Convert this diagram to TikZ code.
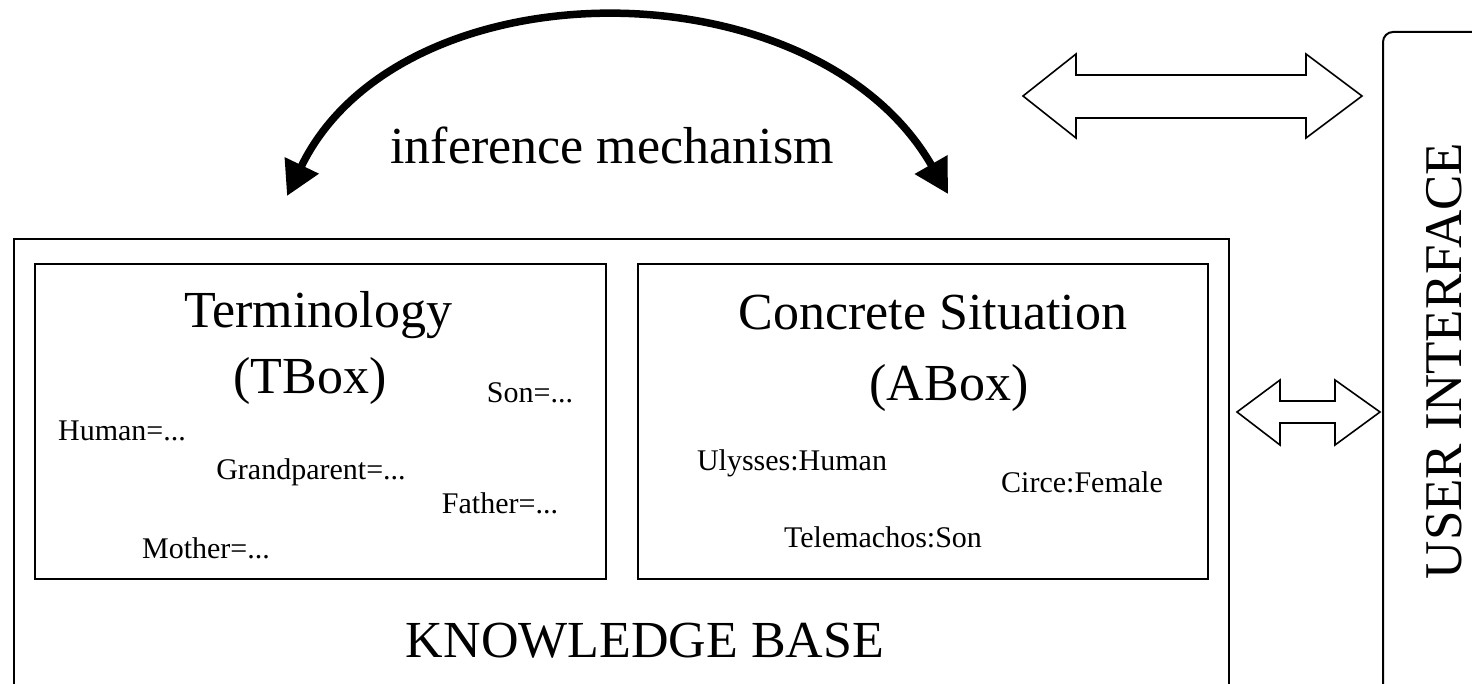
\documentclass[tikz,border=0pt]{standalone}
\usepackage{fontspec}
\setmainfont{Liberation Serif}
\usetikzlibrary{arrows.meta}
\begin{document}
\begin{tikzpicture}[x=1pt,y=-1pt,
  box/.style={draw, line width=2pt},
  title/.style={font=\fontsize{52}{60}\selectfont, anchor=base, inner sep=0pt},
  small/.style={font=\fontsize{30}{34}\selectfont, anchor=base, inner sep=0pt},
  fat/.style={draw, line width=1.6pt, fill=white, line join=miter},
  infer/.style={line width=7.5pt, {Triangle[length=34pt,width=36pt]}-{Triangle[length=34pt,width=36pt]}}]
\useasboundingbox (0,0) rectangle (1472,684);
\clip (0,0) rectangle (1472,684);
% boxes
\draw[box] (14,239) rectangle (1229,720);
\draw[box] (35,264) rectangle (606,579);
\draw[box] (638,264) rectangle (1208,579);
\draw[box, rounded corners=10pt] (1383,32) rectangle (1520,720);
% texts in TBox
\node[title] (term) at (318,328) {Terminology};
\node[title] (tbox) at (310,393) {(TBox)};
\node[small] (son) at (530,402) {Son=...};
\node[small] (human) at (122,440) {Human=...};
\node[small] (grand) at (311,479) {Grandparent=...};
\node[small] (father) at (500,513) {Father=...};
\node[small] (mother) at (206,558) {Mother=...};
% texts in ABox
\node[title] (conc) at (933,330) {Concrete Situation};
\node[title] (abox) at (949,400) {(ABox)};
\node[small] (ulys) at (792,470) {Ulysses:Human};
\node[small] (circe) at (1082,492) {Circe:Female};
\node[small] (tele) at (883,547) {Telemachos:Son};
% labels
\node[title, font=\fontsize{52}{60}\selectfont] (kb) at (645,657) {KNOWLEDGE BASE};
\node[title] (inf) at (612,164) {inference mechanism};
\node[title, font=\fontsize{53}{60}\selectfont, rotate=90] (ui) at (1461,361) {USER INTERFACE};
% inference arc
\coordinate (lt) at (287,196);
\coordinate (rt) at (948,194);
\draw[infer] (lt) .. controls (400,-38) and (815,-38) .. (rt);
% block double arrows
\draw[fat] (1023,96) -- (1076,54) -- (1076,75) -- (1306,75) -- (1306,54) -- (1362,96)
  -- (1306,138) -- (1306,118) -- (1076,118) -- (1076,138) -- cycle;
\draw[fat] (1237,412) -- (1280,380) -- (1280,401) -- (1335,401) -- (1335,380) -- (1380,412)
  -- (1335,445) -- (1335,423) -- (1280,423) -- (1280,445) -- cycle;
\end{tikzpicture}
\end{document}
